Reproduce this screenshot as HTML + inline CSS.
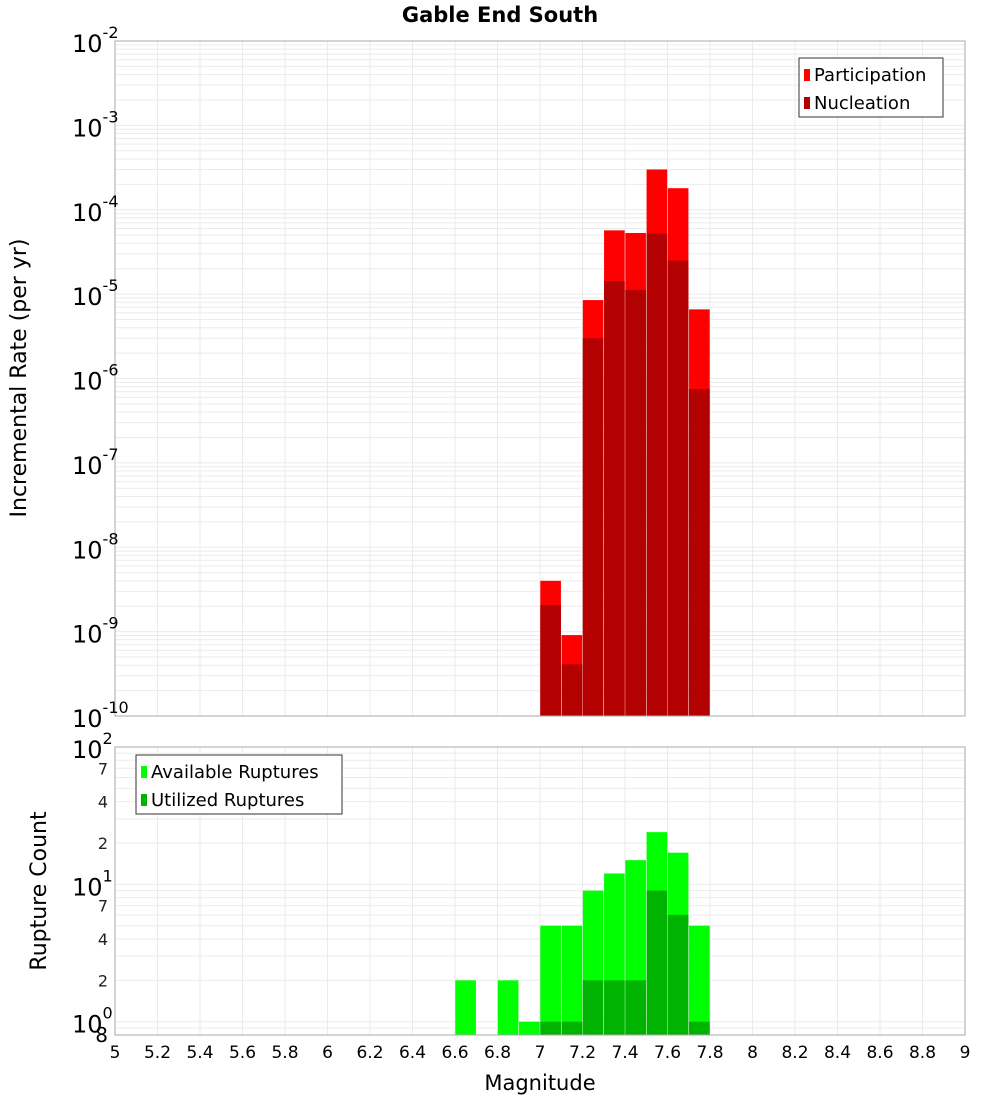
<!DOCTYPE html>
<html><head><meta charset="utf-8"><style>
body{margin:0;background:#fff;font-family:"Liberation Sans","DejaVu Sans",sans-serif}
svg text{font-family:"DejaVu Sans","Liberation Sans",sans-serif}
</style></head><body>
<svg id="c" width="1000" height="1100" xmlns="http://www.w3.org/2000/svg"></svg>
<script>
const binCenters=[6.65,6.85,6.95,7.05,7.15,7.25,7.35,7.45,7.55,7.65,7.75];
const availableCounts=[2,2,1,5,5,9,12,15,24,17,5];
const utilizedCounts=[0,0,0,1,1,2,2,2,9,6,1];
const rateMags=[7.05,7.15,7.25,7.35,7.45,7.55,7.65,7.75];
const participation=[4.0e-9,9.1e-10,8.5e-6,5.7e-5,5.3e-5,3.0e-4,1.8e-4,6.6e-6];
const nucleation=[2.07e-9,4.1e-10,3.0e-6,1.43e-5,1.12e-5,5.2e-5,2.5e-5,7.5e-7];
const xTicks=[5,5.2,5.4,5.6,5.8,6,6.2,6.4,6.6,6.8,7,7.2,7.4,7.6,7.8,8,8.2,8.4,8.6,8.8,9];
const topExps=[-10,-9,-8,-7,-6,-5,-4,-3,-2];

const svg=document.getElementById('c');
const NS='http://www.w3.org/2000/svg';
function mk(t,a,p){const e=document.createElementNS(NS,t);for(const k in a)e.setAttribute(k,a[k]);(p||svg).appendChild(e);return e;}
const L=115,R=965;
const x=v=>L+(v-5)/4*(R-L);
const T1=41,B1=716;
const y1=v=>B1-(Math.log10(v)+10)/8*(B1-T1);
const T2=747,B2=1035,lmin=Math.log10(0.8);
const y2=v=>B2-(Math.log10(v)-lmin)/(2-lmin)*(B2-T2);

function grid(g,T,B,yf,lo,hi){
  for(let e=lo;e<hi;e++)for(let m=1;m<10;m++){const yy=yf(m*Math.pow(10,e));if(yy<T-0.5||yy>B+0.5)continue;mk('line',{x1:L,x2:R,y1:yy,y2:yy,stroke:'#ebebeb','stroke-width':1},g);}
  xTicks.forEach(t=>mk('line',{x1:x(t),x2:x(t),y1:T,y2:B,stroke:'#ebebeb','stroke-width':1},g));
}
// top
const g1=mk('g',{});
grid(g1,T1,B1,y1,-10,-2);
const bw=0.097/4*(R-L);
rateMags.forEach((m,i)=>{
  const r=mk('rect',{x:x(m)-bw/2,y:y1(participation[i]),width:bw,height:B1-y1(participation[i]),fill:'#ff0000'},g1);
  
  const n=mk('rect',{x:x(m)-bw/2,y:y1(nucleation[i]),width:bw,height:B1-y1(nucleation[i]),fill:'#b30000'},g1);
  
});
mk('rect',{x:L,y:T1,width:R-L,height:B1-T1,fill:'none',stroke:'#aaa'},g1);
topExps.forEach(e=>{const yy=y1(Math.pow(10,e));
  const t=mk('text',{x:72,y:yy+11,'font-size':24,fill:'#000'},g1);t.textContent='10';
  const s=mk('tspan',{dy:-14,'font-size':16},t);s.textContent=String(e);
  });
// bottom
const g2=mk('g',{});
grid(g2,T2,B2,y2,-1,2);
binCenters.forEach((m,i)=>{
  const a=mk('rect',{x:x(m)-bw/2,y:y2(availableCounts[i]),width:bw,height:B2-y2(availableCounts[i]),fill:'#00ff00'},g2);
  
  if(utilizedCounts[i]>0){const u=mk('rect',{x:x(m)-bw/2,y:y2(utilizedCounts[i]),width:bw,height:B2-y2(utilizedCounts[i]),fill:'#00b300'},g2);
  }
});
mk('rect',{x:L,y:T2,width:R-L,height:B2-T2,fill:'none',stroke:'#aaa'},g2);
[0,1,2].forEach(e=>{const yy=y2(Math.pow(10,e));
  const t=mk('text',{x:72,y:yy+11,'font-size':24},g2);t.textContent='10';
  const s=mk('tspan',{dy:-14,'font-size':16},t);s.textContent=String(e);
  });
[2,4,7,20,40,70].forEach(v=>{const t=mk('text',{x:108,y:y2(v)+6,'font-size':16,'text-anchor':'end',fill:'#222'},g2);t.textContent=String(String(v)[0]);
  });
{const t=mk('text',{x:108,y:B2+7,'font-size':20,'text-anchor':'end'},g2);t.textContent='8';}
xTicks.forEach(v=>{const t=mk('text',{x:x(v),y:1058,'font-size':17,'text-anchor':'middle'});t.textContent=String(v);
  });
// titles
let t=mk('text',{x:500,y:22,'font-size':21,'font-weight':'bold','text-anchor':'middle'});t.textContent='Gable End South';

t=mk('text',{x:540,y:1090,'font-size':21,'text-anchor':'middle'});t.textContent='Magnitude';

t=mk('text',{x:26,y:378,'font-size':22,'text-anchor':'middle',transform:'rotate(-90 26 378)'});t.textContent='Incremental Rate (per yr)';

t=mk('text',{x:46,y:891,'font-size':22,'text-anchor':'middle',transform:'rotate(-90 46 891)'});t.textContent='Rupture Count';

// legends
function legend(x0,y0,w,items,name){const g=mk('g',{});
  mk('rect',{x:x0,y:y0,width:w,height:59,fill:'#fff',stroke:'#333'},g);
  items.forEach((it,i)=>{mk('rect',{x:x0+5,y:y0+11+i*28,width:6,height:12,fill:it[1]},g);
    const tt=mk('text',{x:x0+15,y:y0+23+i*28,'font-size':18},g);tt.textContent=it[0];
    });}
legend(799,58,144,[['Participation','#ff0000'],['Nucleation','#b30000']],'rate-legend');
legend(136,755,206,[['Available Ruptures','#00ff00'],['Utilized Ruptures','#00b300']],'count-legend');
</script>
</body></html>
